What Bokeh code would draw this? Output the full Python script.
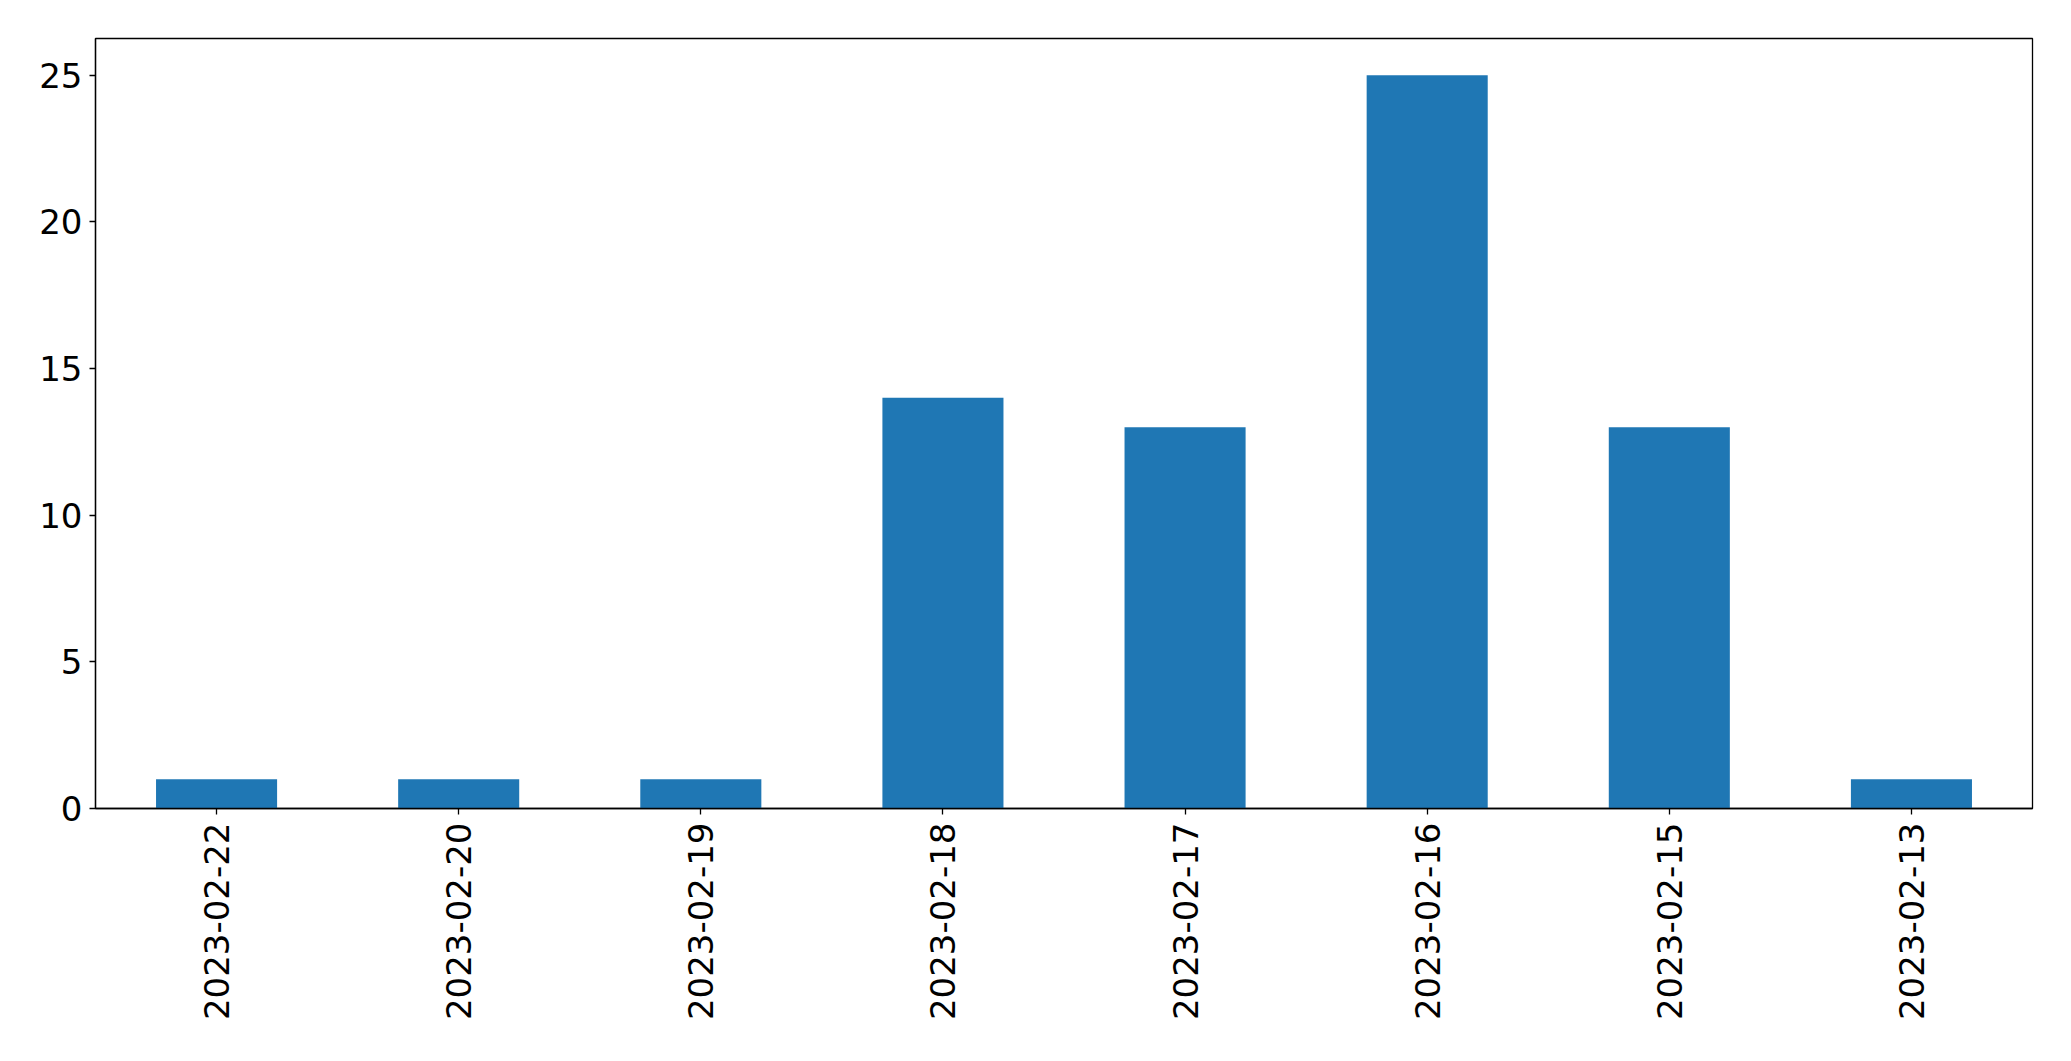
import math
from bokeh.plotting import figure
from bokeh.models import Range1d, FactorRange, FixedTicker, ColumnDataSource
from bokeh.embed import file_html
from bokeh.resources import INLINE

dates = ["2023-02-22", "2023-02-20", "2023-02-19", "2023-02-18",
         "2023-02-17", "2023-02-16", "2023-02-15", "2023-02-13"]
counts = [1, 1, 1, 14, 13, 25, 13, 1]
y_ticks = [0, 5, 10, 15, 20, 25]

source = ColumnDataSource(data=dict(date=dates, count=counts))

p = figure(
    x_range=FactorRange(*dates),
    y_range=Range1d(0, 26.25),
    frame_width=1937, frame_height=770,
    min_border_left=95, min_border_right=31,
    min_border_top=38, min_border_bottom=232,
    output_backend="svg", toolbar_location=None,
)

p.vbar(x="date", top="count", width=0.5, source=source,
       fill_color="#1f77b4", line_color=None)

p.xgrid.visible = False
p.ygrid.visible = False
p.outline_line_color = "black"
p.outline_line_width = 1.3
p.outline_line_alpha = 1
p.background_fill_color = "white"
p.border_fill_color = "white"

p.yaxis.ticker = FixedTicker(ticks=y_ticks)
for ax in (p.xaxis[0], p.yaxis[0]):
    ax.major_label_text_font = "DejaVu Sans"
    ax.major_label_text_font_size = "34px"
    ax.major_label_text_color = "black"
    ax.axis_line_color = "black"
    ax.axis_line_width = 1.3
    ax.major_tick_line_color = "black"
    ax.major_tick_line_width = 1.3
    ax.major_tick_out = 6
    ax.major_tick_in = 0
    ax.minor_tick_line_color = None

p.xaxis.major_label_orientation = math.pi / 2
p.xaxis.major_label_standoff = 8
p.yaxis.major_label_standoff = 7

open("out.html", "w").write(file_html(p, INLINE))
